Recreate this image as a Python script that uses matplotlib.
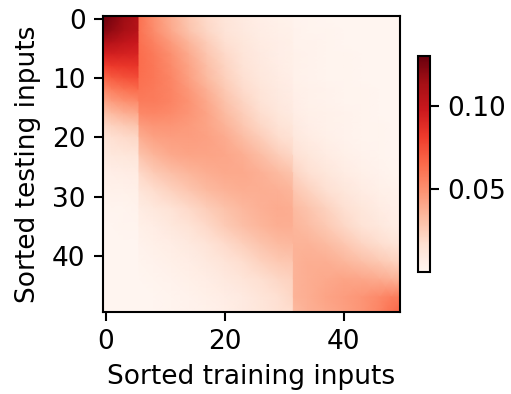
import numpy as np
import matplotlib
matplotlib.use('Agg')
import matplotlib.pyplot as plt

# attention weights read off the picture (in 1/1000), sampled at these
# training (column) and testing (row) positions
train_pos = [-0.5, 1, 3, 5.4, 5.6, 8, 11, 14, 17, 20, 23, 26, 29, 31.4, 31.6,
             34, 37, 40, 43, 46, 48, 49.5]
test_pos = [-0.5, 2, 4, 6, 8, 10, 12, 14, 16, 18, 20, 23, 26, 29, 32, 35, 38,
            41, 44, 47, 49.5]
weights = [
    [130, 124, 116, 108, 62, 50, 38, 27, 19, 13, 9, 6, 4, 3, 2, 2, 1, 1, 1, 1, 1, 1],
    [122, 118, 112, 106, 62, 52, 40, 29, 21, 14, 10, 7, 5, 4, 3, 2, 2, 1, 1, 1, 1, 1],
    [108, 106, 102, 98, 63, 56, 46, 35, 25, 17, 12, 8, 6, 5, 3, 3, 2, 1, 1, 1, 1, 1],
    [94, 94, 93, 92, 64, 59, 50, 39, 28, 20, 13, 9, 6, 5, 4, 3, 2, 2, 1, 1, 1, 1],
    [80, 82, 83, 84, 64, 60, 52, 42, 31, 22, 15, 10, 7, 5, 4, 3, 2, 2, 1, 1, 1, 1],
    [66, 70, 73, 75, 63, 60, 54, 44, 33, 24, 17, 11, 8, 6, 4, 3, 2, 2, 1, 1, 1, 1],
    [52, 57, 61, 64, 61, 59, 55, 47, 37, 27, 19, 13, 9, 7, 5, 4, 3, 2, 2, 1, 1, 1],
    [40, 45, 49, 52, 58, 58, 55, 49, 40, 30, 22, 15, 10, 8, 6, 4, 3, 2, 2, 1, 1, 1],
    [29, 33, 37, 40, 53, 54, 52, 48, 42, 33, 25, 18, 12, 9, 7, 5, 4, 3, 2, 1, 1, 1],
    [20, 23, 26, 29, 45, 48, 48, 46, 42, 36, 28, 21, 15, 12, 9, 6, 4, 3, 2, 2, 1, 1],
    [14, 17, 19, 21, 38, 43, 45, 45, 43, 39, 32, 25, 18, 15, 11, 8, 5, 3, 2, 2, 1, 1],
    [9, 11, 12, 13, 29, 35, 40, 42, 42, 41, 38, 32, 25, 21, 16, 12, 8, 5, 3, 2, 1, 1],
    [5, 6, 7, 8, 20, 26, 31, 35, 38, 40, 40, 37, 33, 29, 22, 17, 12, 8, 5, 3, 2, 2],
    [3, 4, 4, 5, 13, 18, 23, 28, 33, 36, 38, 38, 37, 35, 28, 23, 17, 12, 8, 5, 4, 3],
    [2, 2, 2, 3, 8, 11, 15, 20, 25, 30, 34, 37, 39, 38, 33, 29, 23, 17, 12, 8, 6, 5],
    [1, 1, 2, 2, 5, 7, 11, 15, 20, 26, 31, 35, 38, 38, 35, 32, 27, 21, 15, 11, 8, 7],
    [1, 1, 1, 1, 3, 5, 7, 10, 14, 19, 24, 29, 33, 34, 36, 36, 33, 28, 22, 18, 15, 13],
    [1, 1, 1, 1, 2, 3, 5, 7, 10, 14, 18, 23, 27, 28, 36, 38, 38, 35, 31, 27, 24, 22],
    [1, 1, 1, 1, 1, 2, 3, 5, 7, 10, 13, 17, 21, 23, 36, 38, 40, 42, 41, 39, 37, 36],
    [0, 0, 1, 1, 1, 1, 2, 3, 5, 7, 9, 13, 17, 21, 36, 38, 42, 45, 48, 53, 57, 58],
    [0, 0, 0, 0, 1, 1, 2, 3, 4, 6, 9, 12, 16, 18, 33, 37, 40, 44, 48, 55, 62, 67],
]
x_ticks = [0, 20, 40]
y_ticks = [0, 10, 20, 30, 40]
cbar_ticks = [0.05, 0.10]

plt.rcParams['font.family'] = 'DejaVu Sans'
plt.rcParams['font.size'] = 19
plt.rcParams['axes.linewidth'] = 1.5
for a in ('xtick', 'ytick'):
    plt.rcParams[a + '.major.size'] = 6.5
    plt.rcParams[a + '.major.width'] = 1.5
    plt.rcParams[a + '.major.pad'] = 6

W = np.array(weights) / 1000.0
X, Y = np.meshgrid(train_pos, test_pos)

fig = plt.figure(figsize=(5.11, 3.94), dpi=100)
ax = fig.add_axes([0.2016, 0.2081, 0.5812, 0.7513])
mesh = ax.pcolormesh(X, Y, W, shading='gouraud', cmap='Reds',
                     vmin=0.0005, vmax=0.130)
ax.set_xlim(-0.5, 49.5)
ax.set_ylim(49.5, -0.5)
ax.set_xticks(x_ticks)
ax.set_yticks(y_ticks)
ax.set_xlabel('Sorted training inputs', labelpad=6)
ax.set_ylabel('Sorted testing inputs', labelpad=8)

cax = fig.add_axes([0.818, 0.3096, 0.0235, 0.549])
cb = fig.colorbar(mesh, cax=cax, ticks=cbar_ticks, format='%.2f')
cb.outline.set_linewidth(1.5)

fig.savefig('out.png', dpi=100)
